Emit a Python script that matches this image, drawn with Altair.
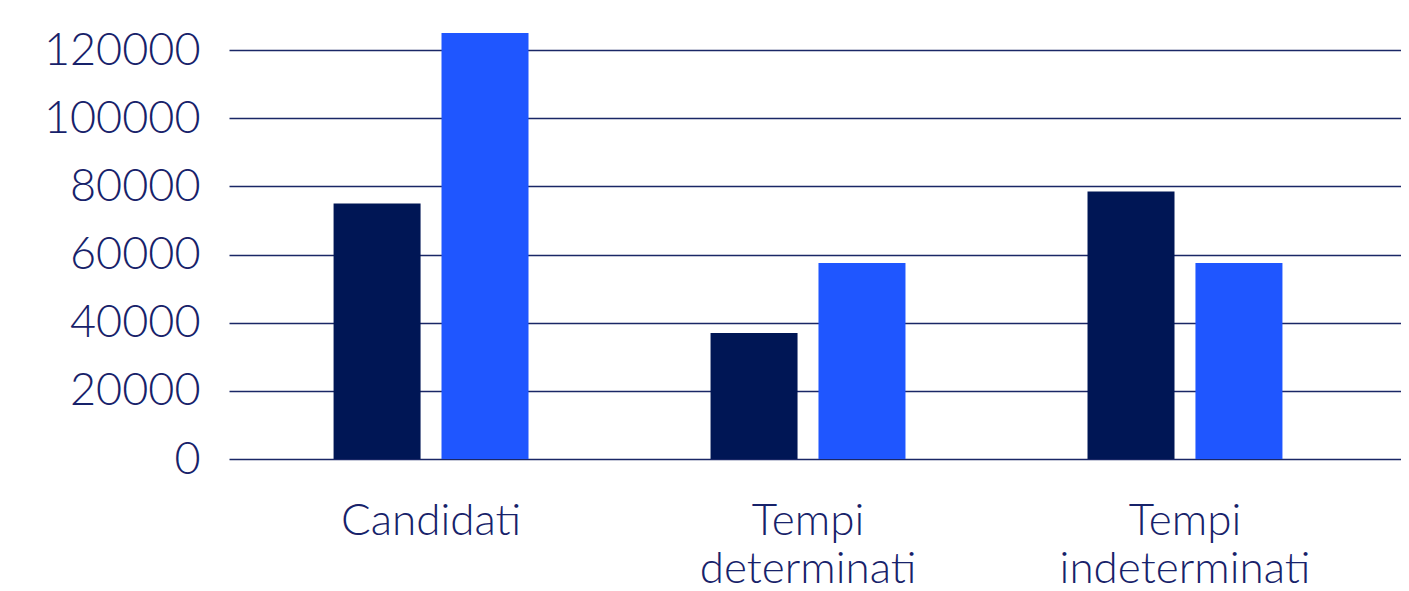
import altair as alt
import pandas as pd

categories = ["Candidati", "Tempi determinati", "Tempi indeterminati"]
series = ["Serie 1", "Serie 2"]
values_1 = [75000, 37000, 78500]
values_2 = [125000, 57500, 57500]
y_ticks = [0, 20000, 40000, 60000, 80000, 100000, 120000]
colors = ["#001655", "#1f56ff"]

rows = []
for c, v1, v2 in zip(categories, values_1, values_2):
    rows.append({"categoria": c, "serie": series[0], "valore": v1})
    rows.append({"categoria": c, "serie": series[1], "valore": v2})
df = pd.DataFrame(rows)

text_color = "#17226a"
font = "Lato"

chart = alt.Chart(df).mark_bar().encode(
    x=alt.X(
        "categoria:N",
        sort=categories,
        title=None,
        scale=alt.Scale(paddingInner=0.2, paddingOuter=0.1545, align=0.44),
        axis=alt.Axis(
            labelExpr="split(datum.label, ' ')",
            labelAngle=0,
            labelFont=font,
            labelFontWeight=300,
            labelFontSize=44,
            labelColor=text_color,
            labelPadding=40,
            labelLineHeight=48,
            labelLimit=600,
            domain=False,
            ticks=False,
            tickSize=0,
            grid=False,
        ),
    ),
    xOffset=alt.XOffset(
        "serie:N", sort=series, scale=alt.Scale(paddingInner=0.194, paddingOuter=0.494)
    ),
    y=alt.Y(
        "valore:Q",
        title=None,
        scale=alt.Scale(domain=[0, 125000], nice=False),
        axis=alt.Axis(
            values=y_ticks,
            format="d",
            labelFont=font,
            labelFontWeight=300,
            labelFontSize=45,
            labelColor=text_color,
            labelPadding=29,
            labelLimit=600,
            domain=False,
            ticks=False,
            tickSize=0,
            grid=True,
            gridColor="#1a2766",
            gridWidth=1.5,
        ),
    ),
    color=alt.Color("serie:N", sort=series, scale=alt.Scale(domain=series, range=colors), legend=None),
).properties(
    width=1172,
    height=426,
    autosize=alt.AutoSizeParams(type="none"),
    padding={"left": 221, "top": 25, "right": 0, "bottom": 130},
).configure_view(stroke=None)

chart.save("out.html", embed_options={"renderer": "svg", "actions": False})
